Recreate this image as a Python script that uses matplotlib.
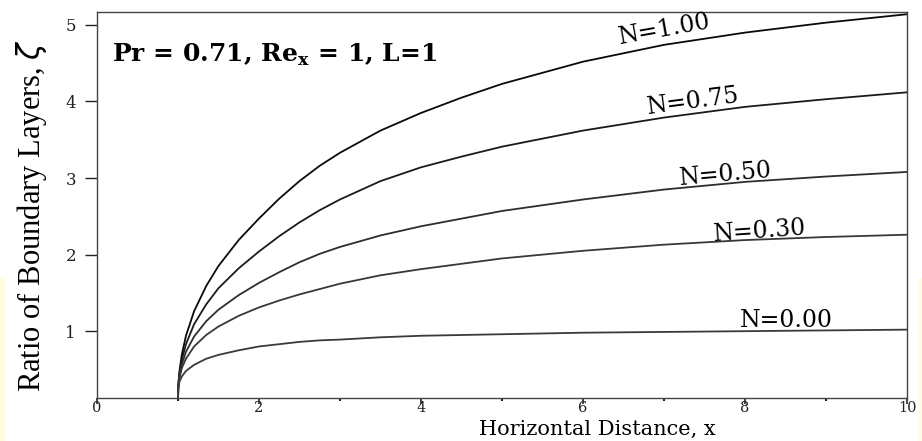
import matplotlib
matplotlib.use("Agg")
import matplotlib.pyplot as plt
from matplotlib.patches import Rectangle

# values
x = [1.0, 1.005, 1.01, 1.02, 1.05, 1.1, 1.2, 1.35, 1.5, 1.75, 2.0, 2.25, 2.5,
     2.75, 3.0, 3.5, 4.0, 4.5, 5.0, 6.0, 7.0, 8.0, 9.0, 10.0]

zeta_n100 = [0.0, 0.27, 0.36, 0.48, 0.70, 0.94, 1.26, 1.59, 1.85, 2.19, 2.47,
             2.73, 2.96, 3.16, 3.33, 3.62, 3.85, 4.05, 4.23, 4.52, 4.74, 4.90,
             5.03, 5.14]
zeta_n075 = [0.0, 0.26, 0.34, 0.44, 0.63, 0.83, 1.09, 1.35, 1.56, 1.82, 2.04,
             2.24, 2.42, 2.58, 2.72, 2.96, 3.14, 3.28, 3.41, 3.62, 3.79, 3.93,
             4.03, 4.12]
zeta_n050 = [0.0, 0.26, 0.32, 0.41, 0.57, 0.73, 0.93, 1.13, 1.28, 1.47, 1.63,
             1.77, 1.90, 2.01, 2.10, 2.25, 2.37, 2.47, 2.57, 2.72, 2.85, 2.95,
             3.02, 3.08]
zeta_n030 = [0.0, 0.25, 0.31, 0.39, 0.52, 0.64, 0.80, 0.95, 1.06, 1.20, 1.31,
             1.40, 1.48, 1.55, 1.62, 1.73, 1.81, 1.88, 1.95, 2.05, 2.13, 2.19,
             2.23, 2.26]
zeta_n000 = [0.0, 0.25, 0.29, 0.34, 0.41, 0.48, 0.56, 0.64, 0.69, 0.75, 0.80,
             0.83, 0.86, 0.88, 0.89, 0.92, 0.94, 0.95, 0.96, 0.98, 0.99, 1.00,
             1.01, 1.02]

curve_labels = ["N=1.00", "N=0.75", "N=0.50", "N=0.30", "N=0.00"]
label_x = [7.0, 7.36, 7.76, 8.18, 8.51]
label_y = [4.94, 4.00, 3.05, 2.31, 1.14]
label_rot = [10, 7.5, 5, 4, 0]

serif = "DejaVu Serif"

fig = plt.figure(figsize=(9.22, 4.41), dpi=100)
ax = fig.add_axes([0.105, 0.098, 0.879, 0.875])

# faint yellow strips at the image edges
fig.patches.append(Rectangle((0, 0), 0.004, 0.37, transform=fig.transFigure,
                             color="#fffde0", zorder=0))
fig.patches.append(Rectangle((0.997, 0), 0.003, 0.37, transform=fig.transFigure,
                             color="#fffde0", zorder=0))

series = [zeta_n100, zeta_n075, zeta_n050, zeta_n030, zeta_n000]
colors = ["#0a0a0a", "#1a1a1a", "#2e2e2e", "#383838", "#3a3a3a"]
for ys, c in zip(series, colors):
    ax.plot(x, ys, color=c, lw=1.3)

for lab, lx, ly, r in zip(curve_labels, label_x, label_y, label_rot):
    ax.text(lx, ly, lab, family=serif, fontsize=17, rotation=r,
            ha="center", va="center", rotation_mode="anchor")

ax.text(0.19, 4.61, "Pr = 0.71, Re$_{\\mathregular{x}}$ = 1, L=1",
        family=serif, fontsize=18, fontweight="bold", va="center")

ax.set_xlim(0, 10)
ax.set_ylim(0.13, 5.17)
ax.set_xticks([0, 2, 4, 6, 8, 10])
ax.set_xticks([1, 3, 5, 7, 9], minor=True)
ax.set_yticks([1, 2, 3, 4, 5])
ax.tick_params(axis="x", which="major", direction="out", length=4, width=1.2,
               pad=-2, labelsize=10.5, colors="#222")
ax.tick_params(axis="x", which="minor", direction="out", length=2, width=1.5,
               colors="#222")
ax.tick_params(axis="y", direction="out", length=9, width=1, pad=6,
               labelsize=12, colors="#222")
for t in ax.get_xticklabels() + ax.get_yticklabels():
    t.set_family(serif)

for s in ax.spines.values():
    s.set_color("#444")
    s.set_linewidth(1.0)

ax.set_xlabel("Horizontal Distance, x", family=serif, fontsize=15, va="bottom")
ax.xaxis.set_label_coords(0.618, -0.106)
ax.set_ylabel("Ratio of Boundary Layers, $\\zeta$", family="Liberation Serif",
              fontsize=22)
ax.yaxis.set_label_coords(-0.059, 0.472)

fig.savefig("out.png", dpi=100)
